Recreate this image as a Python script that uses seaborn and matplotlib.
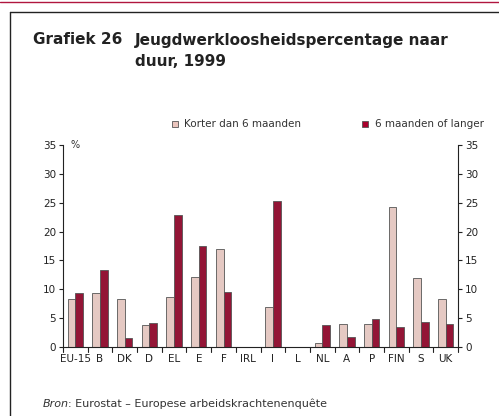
import pandas as pd
import matplotlib.pyplot as plt
import seaborn as sns
from matplotlib.lines import Line2D
from matplotlib.patches import Rectangle

# data
countries = ["EU-15", "B", "DK", "D", "EL", "E", "F", "IRL", "I", "L",
             "NL", "A", "P", "FIN", "S", "UK"]
korter = [8.3, 9.3, 8.3, 3.8, 8.7, 12.1, 16.9, 0, 7.0, 0,
          0.7, 4.0, 4.0, 24.3, 11.9, 8.3]
langer = [9.3, 13.4, 1.5, 4.2, 22.9, 17.5, 9.5, 0, 25.3, 0,
          3.8, 1.8, 4.8, 3.4, 4.4, 4.0]
series = ["Korter dan 6 maanden", "6 maanden of langer"]
yticks = [0, 5, 10, 15, 20, 25, 30, 35]

df = pd.DataFrame({
    "land": countries * 2,
    "duur": [series[0]] * len(countries) + [series[1]] * len(countries),
    "pct": korter + langer,
})

pink = "#ebc5bd"
red = "#a8002c"

sns.set_style("white")
plt.rcParams['font.family'] = ['DejaVu Sans']

fig = plt.figure(figsize=(4.99, 4.16), dpi=100)
ax = fig.add_axes([0.1263, 0.1659, 0.918 - 0.1263, 0.6514 - 0.1659])

sns.barplot(data=df, x="land", y="pct", hue="duur", palette=[pink, red],
            width=0.62, edgecolor="#555555", linewidth=0.6, ax=ax, legend=False)

ax.set_ylim(0, 35)
ax.set_xlim(-0.5, len(countries) - 0.5)
ax.set_yticks(yticks)
ax.set_xlabel("")
ax.set_ylabel("")
ax.tick_params(axis="y", labelsize=7.5, length=3, direction="out", pad=2, colors="#222222")
ax.tick_params(axis="x", labelsize=7.5, length=0, pad=5, colors="#222222")
for s in ["top", "right"]:
    ax.spines[s].set_visible(False)
for s in ["left", "bottom"]:
    ax.spines[s].set_color("#222222")
    ax.spines[s].set_linewidth(0.8)
# ticks between categories on the x axis
for i in range(len(countries) + 1):
    ax.plot([i - 0.5, i - 0.5], [0, -0.8], color="#222222", lw=0.8, clip_on=False)

ax2 = ax.twinx()
ax2.set_ylim(0, 35)
ax2.set_yticks(yticks)
ax2.tick_params(axis="y", labelsize=7.5, length=3, direction="out", pad=2, colors="#222222")
for s in ["top", "left", "bottom"]:
    ax2.spines[s].set_visible(False)
ax2.spines["right"].set_color("#222222")
ax2.spines["right"].set_linewidth(0.8)

ax.text(0.02, 1.0, "%", transform=ax.transAxes, fontsize=7, color="#333333", va="center")

# legend
fig.patches.append(Rectangle((172 / 499, 1 - 127 / 416), 6 / 499, 6 / 416,
                             transform=fig.transFigure, facecolor=pink,
                             edgecolor="#555555", lw=0.6))
fig.text(184 / 499, 1 - 124 / 416, series[0], fontsize=7.5, color="#333333", va="center")
fig.patches.append(Rectangle((362 / 499, 1 - 127 / 416), 6 / 499, 6 / 416,
                             transform=fig.transFigure, facecolor=red,
                             edgecolor="#555555", lw=0.6))
fig.text(375 / 499, 1 - 124 / 416, series[1], fontsize=7.5, color="#333333", va="center")

# title
fig.text(33 / 499, 1 - 40 / 416, "Grafiek 26", fontsize=11, fontweight="bold",
         color="#222222", va="center")
fig.text(135 / 499, 1 - 40 / 416, "Jeugdwerkloosheidspercentage naar", fontsize=11,
         fontweight="bold", color="#222222", va="center")
fig.text(135 / 499, 1 - 62 / 416, "duur, 1999", fontsize=11, fontweight="bold",
         color="#222222", va="center")

# source
fig.text(43 / 499, 1 - 404 / 416, "Bron", fontsize=8, style="italic", color="#333333", va="center")
fig.text(68 / 499, 1 - 404 / 416, ": Eurostat – Europese arbeidskrachtenenquête",
         fontsize=8, color="#333333", va="center")

# frame lines
fig.add_artist(Line2D([0, 1], [1 - 2 / 416, 1 - 2 / 416], transform=fig.transFigure,
                      color="#b0163f", lw=1))
fig.add_artist(Line2D([10 / 499, 1], [1 - 12 / 416, 1 - 12 / 416], transform=fig.transFigure,
                      color="#222222", lw=1))
fig.add_artist(Line2D([10 / 499, 10 / 499], [0, 1 - 12 / 416], transform=fig.transFigure,
                      color="#222222", lw=1))

fig.savefig("out.png", dpi=100)
